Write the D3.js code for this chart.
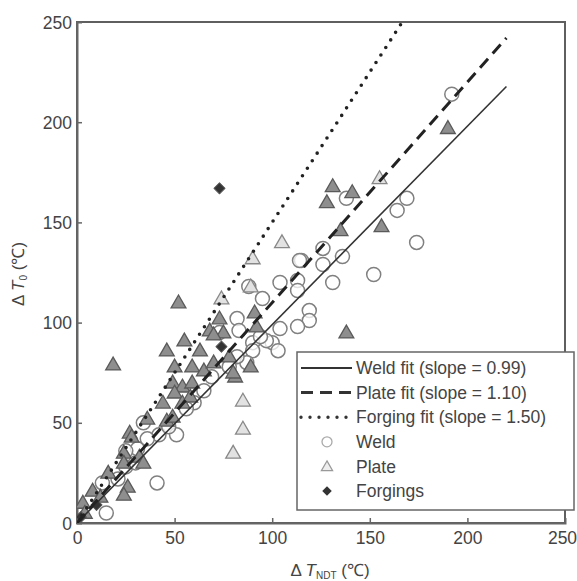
<!DOCTYPE html>
<meta charset="utf-8">
<style>
body { margin: 0; background: #fff; }
svg { font-family: "Liberation Sans", Arial, sans-serif; }
.axis path, .axis line { stroke: #666; }
.axis text { fill: #444; font-size: 17.5px; }
.legend text { fill: #444; font-size: 17.5px; }
</style>
<svg width="577" height="581"></svg>
<script src="https://d3js.org/d3.v7.min.js"></script>
<script>

// values
var xTicks = [0, 50, 100, 150, 200, 250];
var yTicks = [0, 50, 100, 150, 200, 250];

var fitNames = ["Weld fit", "Plate fit", "Forging fit"];
var fitSlopes = [0.99, 1.10, 1.50];
var fitEnd = 220;

var weld = [
  [192,214],[174,140],[169,162],[164,156],[152,124],[138,162],[136,133],[131,120],
  [126,137],[126,129],[115,131],[113,121],[113,116],[104,120],[119,106],[119,101],
  [113,98],[104,97],[100,90],[103,86],[95,112],[90,90],[90,86],[87,80],[82,102],
  [83,96],[82,83],[73,95],[97,91],[94,93],[69,73],[65,66],[51,44],[42,44],[34,50],
  [36,42],[31,37],[25,36],[25,28],[41,20],[21,22],[13,20],[15,5],[88,118],[114,131],
  [60,60],[56,57],[78,78],[47,48],[30,30]
];

var plateDark = [
  [190,197],[131,168],[128,160],[135,146],[156,148],[141,165],[138,95],[52,110],
  [18.5,79],[55,91],[46,86],[63,86],[50,78],[59,78],[73,102],[68,96],[75,95],[81,73],
  [80,75],[89,78],[49,70],[54,68],[59,70],[50,65],[44,60],[54,60],[58,63],[46,51],
  [49,53],[36,52],[27,45],[28,43],[24,35],[32,33],[34,30],[24,30],[16,25],[26,18],
  [24,14],[3,10],[4,5],[91,105],[92,98],[78,83],[70,94],[8,16],[12,13],[65,76],[70,80]
];

var plateLight = [
  [155,172],[105,140],[90,132],[74,112],[89,118],[85,61],[85,47],[80,35]
];

var forgings = [[73,167],[74,88],[2,3],[10,9]];

var svg = d3.select("svg");

var x = d3.scaleLinear().domain([0, 250]).range([77, 565]);
var y = d3.scaleLinear().domain([0, 250]).range([523, 22]);

svg.append("clipPath").attr("id", "plot")
  .append("rect")
    .attr("x", x(0)).attr("y", y(250))
    .attr("width", x(250) - x(0)).attr("height", y(0) - y(250));

// frame
svg.append("rect")
    .attr("x", x(0)).attr("y", y(250))
    .attr("width", x(250) - x(0)).attr("height", y(0) - y(250))
    .attr("fill", "none").attr("stroke", "#5f5f5f").attr("stroke-width", 2);

var xAxis = svg.append("g")
    .attr("class", "axis")
    .attr("transform", "translate(0," + y(0) + ")")
    .call(d3.axisBottom(x).tickValues(xTicks).tickSize(-5).tickPadding(9));
xAxis.select(".domain").attr("stroke-width", 2);
xAxis.selectAll(".tick line").attr("stroke-width", 1.5)
    .filter(function(d) { return d === 0 || d === 250; }).remove();
// last label sits against the page edge
xAxis.selectAll(".tick text")
    .filter(function(d) { return d === 250; })
    .attr("dx", -3);

var yAxis = svg.append("g")
    .attr("class", "axis")
    .attr("transform", "translate(" + x(0) + ",0)")
    .call(d3.axisLeft(y).tickValues(yTicks).tickSize(-5).tickPadding(5));
yAxis.select(".domain").attr("stroke-width", 2);
yAxis.selectAll(".tick line").attr("stroke-width", 1.5)
    .filter(function(d) { return d === 0 || d === 250; }).remove();
yAxis.selectAll(".tick text").attr("dy", "0.35em");

// markers
var tri = d3.symbol().type(d3.symbolTriangle).size(95);
var dia = d3.symbol().type(d3.symbolSquare).size(60);

var marks = svg.append("g").attr("clip-path", "url(#plot)");

marks.selectAll(".weld").data(weld).enter().append("circle")
    .attr("class", "weld")
    .attr("cx", function(d) { return x(d[0]); })
    .attr("cy", function(d) { return y(d[1]); })
    .attr("r", 7)
    .attr("fill", "#fff").attr("fill-opacity", 0.75)
    .attr("stroke", "#808080").attr("stroke-width", 1.5);

marks.selectAll(".plateL").data(plateLight).enter().append("path")
    .attr("class", "plateL")
    .attr("d", tri)
    .attr("transform", function(d) { return "translate(" + x(d[0]) + "," + (y(d[1]) + 1) + ")"; })
    .attr("fill", "#e2e2e2").attr("stroke", "#888").attr("stroke-width", 1.3);

marks.selectAll(".plateD").data(plateDark).enter().append("path")
    .attr("class", "plateD")
    .attr("d", tri)
    .attr("transform", function(d) { return "translate(" + x(d[0]) + "," + (y(d[1]) + 1) + ")"; })
    .attr("fill", "#8e8e8e").attr("stroke", "#5a5a5a").attr("stroke-width", 1.3);

marks.selectAll(".forg").data(forgings).enter().append("path")
    .attr("class", "forg")
    .attr("d", dia)
    .attr("transform", function(d) { return "translate(" + x(d[0]) + "," + y(d[1]) + ") rotate(45)"; })
    .attr("fill", "#333").attr("stroke", "#555").attr("stroke-width", 1)
    .attr("stroke-linejoin", "round");

// fit lines
var dashes = [null, "12,7", "0,9"];
var widths = [1.6, 3, 3.6];

marks.selectAll(".fit").data(fitSlopes).enter().append("line")
    .attr("class", "fit")
    .attr("x1", x(0)).attr("y1", y(0))
    .attr("x2", function(s) { return x(fitEnd); })
    .attr("y2", function(s) { return y(s * fitEnd); })
    .attr("stroke", function(s, i) { return i === 0 ? "#333" : "#222"; })
    .attr("stroke-width", function(s, i) { return widths[i]; })
    .attr("stroke-dasharray", function(s, i) { return dashes[i]; })
    .attr("stroke-linecap", function(s, i) { return i === 2 ? "round" : "butt"; });

// legend
var lg = svg.append("g").attr("class", "legend");
lg.append("rect")
    .attr("x", 297).attr("y", 352).attr("width", 277).attr("height", 158)
    .attr("fill", "#fff").attr("stroke", "#666").attr("stroke-width", 1.5);

var rowY = function(i) { return 368 + i * 24.6; };

fitSlopes.forEach(function(s, i) {
  lg.append("line")
      .attr("x1", 301).attr("x2", 352)
      .attr("y1", rowY(i)).attr("y2", rowY(i))
      .attr("stroke", "#333")
      .attr("stroke-width", i === 0 ? 1.8 : (i === 1 ? 3 : 3.4))
      .attr("stroke-dasharray", i === 1 ? "12,7" : (i === 2 ? "0,9" : null))
      .attr("stroke-linecap", i === 2 ? "round" : "butt");
  lg.append("text")
      .attr("x", 356).attr("y", rowY(i)).attr("dy", "0.35em")
      .text(fitNames[i] + " (slope = " + s.toFixed(2) + ")");
});

var symNames = ["Weld", "Plate", "Forgings"];
lg.append("circle").attr("cx", 327).attr("cy", rowY(3)).attr("r", 5)
    .attr("fill", "#fff").attr("stroke", "#aaa").attr("stroke-width", 1.3);
lg.append("path").attr("d", d3.symbol().type(d3.symbolTriangle).size(55))
    .attr("transform", "translate(327," + (rowY(4) + 1) + ")")
    .attr("fill", "#eee").attr("stroke", "#999").attr("stroke-width", 1.2);
lg.append("path").attr("d", d3.symbol().type(d3.symbolSquare).size(45))
    .attr("transform", "translate(327," + rowY(5) + ") rotate(45)")
    .attr("fill", "#333");
symNames.forEach(function(n, i) {
  lg.append("text")
      .attr("x", 356).attr("y", rowY(3 + i)).attr("dy", "0.35em")
      .text(n);
});

// axis titles
var xt = svg.append("text")
    .attr("x", 330).attr("y", 576)
    .attr("text-anchor", "middle")
    .attr("fill", "#444").attr("font-size", 17);
xt.append("tspan").text("Δ ");
xt.append("tspan").attr("font-style", "italic").text("T");
xt.append("tspan").attr("font-size", 10).attr("dy", 3).text("NDT");
xt.append("tspan").attr("dy", -3).text(" (℃)");

var yt = svg.append("text")
    .attr("transform", "translate(24,274) rotate(-90)")
    .attr("text-anchor", "middle")
    .attr("fill", "#444").attr("font-size", 17);
yt.append("tspan").text("Δ ");
yt.append("tspan").attr("font-style", "italic").text("T");
yt.append("tspan").attr("font-size", 10).attr("dy", 3).text("0");
yt.append("tspan").attr("dy", -3).text(" (℃)");

</script>
